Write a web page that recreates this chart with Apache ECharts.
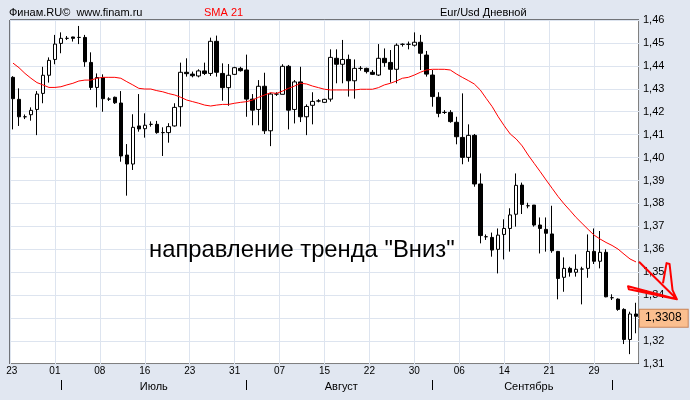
<!DOCTYPE html>
<html><head><meta charset="utf-8">
<script src="https://cdn.jsdelivr.net/npm/echarts@6/dist/echarts.min.js"></script>
<style>html,body{margin:0;padding:0;background:#e1e7f1;}#c{width:690px;height:400px;}</style>
</head><body><div id="c"></div>
<script>
// ---- Data ----
const openP  = [1.4350,1.4254,1.4178,1.4187,1.4210,1.4280,1.4359,1.4428,1.4498,1.4520,1.4526,1.4524,1.4524,1.4415,1.4306,1.4349,1.4255,1.4263,1.4238,1.4011,
                1.3972,1.4138,1.4126,1.4145,1.4145,1.4109,1.4109,1.4138,1.4222,1.4372,1.4364,1.4356,1.4378,1.4367,1.4507,1.4367,1.4305,1.4363,1.4389,1.4382,
                1.4255,1.4210,1.4311,1.4117,1.4277,1.4276,1.4398,1.4210,1.4330,1.4178,1.4228,1.4247,1.4241,1.4255,1.4433,1.4407,1.4428,1.4335,1.4389,1.4389,
                1.4372,1.4360,1.4433,1.4415,1.4385,1.4494,1.4494,1.4490,1.4503,1.4447,1.4360,1.4263,1.4197,1.4197,1.4154,1.4088,1.4001,1.4097,1.3885,1.3655,
                1.3652,1.3600,1.3665,1.3691,1.3753,1.3880,1.3790,1.3793,1.3706,1.3687,1.3667,1.3591,1.3478,1.3517,1.3500,1.3514,1.3517,1.3591,1.3548,1.3587,
                1.3389,1.3383,1.3338,1.3207,1.3318];
const closeP = [1.4257,1.4178,1.4178,1.4206,1.4277,1.4359,1.4424,1.4495,1.4520,1.4520,1.4520,1.4524,1.4418,1.4306,1.4349,1.4257,1.4255,1.4239,1.4007,1.3972,
                1.4132,1.4125,1.4141,1.4145,1.4109,1.4109,1.4135,1.4219,1.4372,1.4366,1.4357,1.4378,1.4367,1.4507,1.4372,1.4305,1.4359,1.4392,1.4379,1.4255,
                1.4207,1.4311,1.4117,1.4277,1.4277,1.4398,1.4207,1.4330,1.4178,1.4223,1.4245,1.4247,1.4254,1.4437,1.4407,1.4428,1.4335,1.4389,1.4389,1.4375,
                1.4363,1.4433,1.4414,1.4385,1.4490,1.4494,1.4494,1.4503,1.4455,1.4364,1.4266,1.4193,1.4197,1.4157,1.4091,1.4001,1.4097,1.3885,1.3660,1.3655,
                1.3597,1.3662,1.3691,1.3750,1.3879,1.3796,1.3790,1.3706,1.3691,1.3670,1.3594,1.3473,1.3517,1.3500,1.3513,1.3514,1.3591,1.3548,1.3587,1.3393,
                1.3389,1.3338,1.3207,1.3318,1.3308];
const lowP   = [1.4123,1.4138,1.4168,1.4161,1.4098,1.4237,1.4327,1.4407,1.4455,1.4513,1.4506,1.4495,1.4396,1.4295,1.4219,1.4200,1.4247,1.4234,1.3982,1.3834,
                1.3946,1.4113,1.4087,1.4135,1.4104,1.4007,1.4065,1.4135,1.4135,1.4353,1.4350,1.4350,1.4360,1.4356,1.4353,1.4248,1.4226,1.4360,1.4375,1.4178,
                1.4141,1.4141,1.4103,1.4050,1.4269,1.4276,1.4123,1.4149,1.4155,1.4098,1.4145,1.4241,1.4238,1.4244,1.4324,1.4324,1.4266,1.4257,1.4379,1.4367,
                1.4360,1.4356,1.4396,1.4327,1.4324,1.4484,1.4472,1.4484,1.4382,1.4353,1.4222,1.4176,1.4190,1.4152,1.4058,1.3971,1.3982,1.3873,1.3626,1.3641,
                1.3568,1.3495,1.3556,1.3590,1.3699,1.3754,1.3779,1.3699,1.3582,1.3590,1.3585,1.3382,1.3415,1.3481,1.3481,1.3360,1.3476,1.3536,1.3517,1.3391,
                1.3379,1.3332,1.3187,1.3143,1.3234];
const highP  = [1.4355,1.4302,1.4188,1.4219,1.4290,1.4396,1.4437,1.4535,1.4546,1.4530,1.4527,1.4574,1.4535,1.4459,1.4367,1.4363,1.4263,1.4266,1.4290,1.4059,
                1.4189,1.4277,1.4193,1.4158,1.4160,1.4132,1.4150,1.4237,1.4414,1.4433,1.4375,1.4385,1.4414,1.4523,1.4532,1.4411,1.4408,1.4396,1.4396,1.4449,
                1.4277,1.4338,1.4370,1.4283,1.4285,1.4407,1.4404,1.4338,1.4396,1.4232,1.4285,1.4255,1.4257,1.4472,1.4472,1.4513,1.4449,1.4428,1.4399,1.4392,
                1.4382,1.4495,1.4476,1.4469,1.4498,1.4498,1.4506,1.4546,1.4535,1.4465,1.4382,1.4285,1.4207,1.4207,1.4178,1.4280,1.4145,1.4103,1.3931,1.3665,
                1.3673,1.3691,1.3731,1.3779,1.3931,1.3891,1.3803,1.3793,1.3739,1.3739,1.3790,1.3593,1.3565,1.3524,1.3578,1.3524,1.3665,1.3691,1.3680,1.3600,
                1.3404,1.3386,1.3343,1.3328,1.3367];
const sma21  = [1.4412,1.4392,1.4367,1.4346,1.4327,1.4317,1.4306,1.4306,1.4309,1.4317,1.4324,1.4334,1.4338,1.4338,1.4346,1.4350,1.4350,1.4350,1.4346,1.4331,
                1.4317,1.4302,1.4299,1.4299,1.4292,1.4287,1.4279,1.4273,1.4263,1.4251,1.4244,1.4237,1.4229,1.4225,1.4229,1.4232,1.4232,1.4237,1.4241,1.4244,
                1.4251,1.4263,1.4273,1.4283,1.4280,1.4290,1.4302,1.4312,1.4324,1.4321,1.4312,1.4305,1.4298,1.4295,1.4295,1.4295,1.4295,1.4295,1.4298,1.4298,
                1.4298,1.4305,1.4317,1.4324,1.4334,1.4346,1.4350,1.4360,1.4372,1.4382,1.4385,1.4385,1.4385,1.4382,1.4365,1.4350,1.4336,1.4321,1.4295,1.4258,
                1.4222,1.4178,1.4139,1.4103,1.4081,1.4051,1.4011,1.3975,1.3939,1.3902,1.3866,1.3830,1.3798,1.3769,1.3739,1.3713,1.3687,1.3662,1.3645,1.3630,
                1.3617,1.3601,1.3579,1.3558,1.3545];

const dateLabels    = ['23','01','08','16','23','31','07','15','22','30','06','14','21','29'];
const dateLabelPos  = [0.3,7.5,15,22.5,30,37.5,45,52.5,60,67.5,75,82.5,90,97.5];
const monthNames    = ['Июль','Август','Сентябрь'];
const monthLabelPos = [24,55.3,86.6];
const monthBounds   = [8.5,39.5,70.5,100.5];
const yMin = 1.31, yMax = 1.46, yStep = 0.01;
// hand-drawn red arrow (x in bar units, y in price)
const arrowX = [105.0,111.33,103.17,103.3,111.33,110.6,110.1,109.6,109.0];
const arrowY = [1.3546,1.3382,1.3439,1.3426,1.3382,1.3422,1.3536,1.3540,1.3452];

// ---- Build ----
const n = openP.length;
const cats = openP.map((_, i) => String(i));
const candles = openP.map((o, i) => [o, closeP[i], lowP[i], highP[i]]);
const arrowData = arrowX.map((x, i) => [x, arrowY[i]]);
const lastClose = closeP[n - 1];
const FONT = 'Arial, "Liberation Sans", sans-serif';
const GRIDC = '#dde4ef';
function pick(pos, labels, v) {
  for (let i = 0; i < pos.length; i++) if (Math.abs(pos[i] - v) < 1e-6) return labels[i];
  return '';
}

const chart = echarts.init(document.getElementById('c'), null, {renderer: 'canvas'});
chart.setOption({
  animation: false,
  backgroundColor: '#e1e7f1',
  grid: [
    {left: 10, right: 51, top: 20, bottom: 36, show: true, backgroundColor: '#ffffff', borderColor: '#000', borderWidth: 1},
    {left: 10, right: 51, top: 20, bottom: 20, show: false}
  ],
  xAxis: [
    {type: 'category', gridIndex: 0, data: cats, position: 'top', show: false, boundaryGap: true},
    {type: 'value', gridIndex: 0, position: 'bottom', min: 0, max: n, interval: 7.5,
     axisLine: {show: false}, axisTick: {show: false},
     splitLine: {show: true, lineStyle: {color: GRIDC, width: 1}},
     axisLabel: {customValues: dateLabelPos, formatter: v => pick(dateLabelPos, dateLabels, v),
                 fontSize: 10, fontFamily: FONT, color: '#000', margin: 2}},
    {type: 'value', gridIndex: 1, position: 'bottom', min: 0, max: n,
     axisLine: {show: false}, splitLine: {show: false},
     axisTick: {show: true, customValues: monthBounds, length: 10, lineStyle: {color: '#000', width: 1}},
     axisLabel: {customValues: monthLabelPos, formatter: v => pick(monthLabelPos, monthNames, v),
                 fontSize: 11, fontFamily: FONT, color: '#000', margin: 1}}
  ],
  yAxis: [
    {type: 'value', gridIndex: 0, position: 'right', min: yMin, max: yMax, interval: yStep,
     axisLine: {show: false}, axisTick: {show: false},
     splitLine: {show: true, lineStyle: {color: GRIDC, width: 1}},
     axisLabel: {formatter: v => v.toFixed(2).replace('.', ','), fontSize: 11, fontFamily: FONT, color: '#000', margin: 4}},
    {type: 'value', gridIndex: 1, show: false, min: 0, max: 1}
  ],
  series: [
    {type: 'candlestick', xAxisIndex: 0, yAxisIndex: 0, data: candles, barWidth: 4,
     itemStyle: {color: '#ffffff', color0: '#000000', borderColor: '#000000', borderColor0: '#000000', borderColorDoji: '#000000', borderWidth: 1},
     markLine: {silent: true, symbol: ['none', 'none'], animation: false,
       lineStyle: {opacity: 0},
       label: {show: true, position: 'end', distance: 1, formatter: () => lastClose.toFixed(4).replace('.', ','),
               backgroundColor: '#fbbf8f', borderColor: '#c8845a', borderWidth: 1, padding: [3, 6, 2, 5],
               color: '#000', fontSize: 12, fontFamily: FONT, opacity: 1},
       data: [{yAxis: lastClose}]}},
    {type: 'line', name: 'SMA 21', xAxisIndex: 0, yAxisIndex: 0, data: sma21, showSymbol: false, symbol: 'none',
     lineStyle: {color: '#ff0000', width: 1}, z: 3},
    {type: 'custom', xAxisIndex: 1, yAxisIndex: 0, data: arrowData, clip: false, z: 5,
     renderItem: function (params, api) {
       if (params.dataIndex !== 0) return null;
       const pts = arrowData.map(p => api.coord(p));
       return {type: 'polyline', shape: {points: pts},
               style: {stroke: '#ff0000', lineWidth: 2, fill: null, lineJoin: 'round'}};
     }},
    {type: 'scatter', xAxisIndex: 2, yAxisIndex: 1, data: []}
  ],
  graphic: [
    {type: 'text', x: 9, y: 13, z: 100, style: {text: 'Финам.RU©  www.finam.ru', fill: '#000', fontSize: 11, fontFamily: FONT, verticalAlign: 'middle'}},
    {type: 'text', x: 204, y: 13, z: 100, style: {text: 'SMA 21', fill: '#ff0000', fontSize: 11, fontFamily: FONT, verticalAlign: 'middle'}},
    {type: 'text', x: 440, y: 13, z: 100, style: {text: 'Eur/Usd Дневной', fill: '#000', fontSize: 11, fontFamily: FONT, verticalAlign: 'middle'}},
    {type: 'text', x: 149, y: 250, z: 100, style: {text: 'направление тренда "Вниз"', fill: '#000', fontSize: 23.8, fontFamily: FONT, verticalAlign: 'middle'}}
  ]
});
</script></body></html>
